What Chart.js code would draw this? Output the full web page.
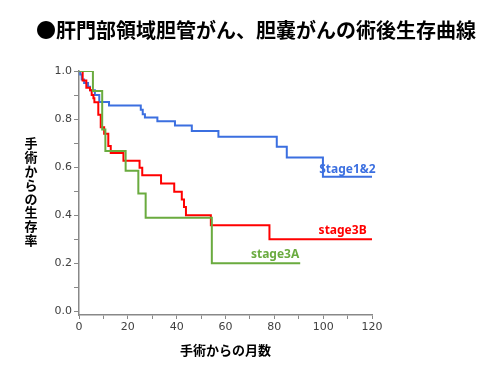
<!DOCTYPE html>
<html>
<head>
<meta charset="utf-8">
<script src="https://cdn.jsdelivr.net/npm/chart.js@4.4.1/dist/chart.umd.min.js"></script>
<style>
    html, body { margin: 0; padding: 0; background: #fff; }
</style>
</head>
<body>
<canvas id="curvaSobrevida" width="500" height="375"></canvas>
<script>
// Kaplan-Meier: mês de cada degrau e sobrevida depois dele
const mesesStage12 = [0, 0.5, 1.1, 2.1, 3.7, 4.5, 6.5, 8.3, 12.3, 25.3, 26.1, 27, 32.1, 39.3, 46.2, 57.1, 81, 85.1, 99.9, 120];
const sobrevidaStage12 = [1.0, 0.985, 0.965, 0.95, 0.935, 0.92, 0.90, 0.871, 0.856, 0.839, 0.82, 0.807, 0.791, 0.773, 0.75, 0.727, 0.685, 0.64, 0.56, 0.56];

const mesesStage3B = [0, 1.5, 3, 4.5, 5.2, 5.9, 6.3, 7.9, 8.9, 10.3, 12, 13, 18.2, 24.8, 25.9, 33.6, 39, 42.1, 43, 43.8, 54, 78, 120];
const sobrevidaStage3B = [1.0, 0.96, 0.93, 0.92, 0.90, 0.887, 0.87, 0.818, 0.766, 0.739, 0.688, 0.659, 0.627, 0.598, 0.566, 0.532, 0.498, 0.465, 0.434, 0.40, 0.358, 0.30, 0.30];

const mesesStage3A = [0, 5.7, 9.5, 10.8, 19.1, 24.3, 27.3, 54.4, 90.6];
const sobrevidaStage3A = [1.0, 0.917, 0.757, 0.667, 0.585, 0.49, 0.39, 0.20, 0.20];

const nomesSeries = ['Stage1&2', 'stage3B', 'stage3A'];
const ticksY = [0, 0.1, 0.2, 0.3, 0.4, 0.5, 0.6, 0.7, 0.8, 0.9, 1.0];
const ticksX = [0, 10, 20, 30, 40, 50, 60, 70, 80, 90, 100, 110, 120];

const titulo = '●肝門部領域胆管がん、胆嚢がんの術後生存曲線';
const tituloY = '手術からの生存率';
const tituloX = '手術からの月数';

const cores = ['#3b6fe0', '#ff0000', '#6aab3f'];

const pontos = (xs, ys) => xs.map((x, i) => ({ x: x, y: ys[i] }));

// onde escrever o nome de cada curva (em unidades dos eixos)
const rotulos = [
    { texto: nomesSeries[0], x: 121.5, y: 0.592, cor: cores[0] },
    { texto: nomesSeries[1], x: 117.8, y: 0.336, cor: cores[1] },
    { texto: nomesSeries[2], x: 90.2, y: 0.237, cor: cores[2] }
];

const textosExtras = {
    id: 'textosExtras',
    afterDraw(chart) {
        const ctx = chart.ctx;
        const sx = chart.scales.x;
        const sy = chart.scales.y;
        ctx.save();

        // título principal
        ctx.fillStyle = '#000';
        ctx.font = 'bold 20px "Noto Sans CJK JP"';
        ctx.textAlign = 'center';
        ctx.textBaseline = 'middle';
        ctx.fillText(titulo, 256, 30);

        // título do eixo Y, caracteres empilhados
        ctx.font = 'bold 13px "Noto Sans CJK JP"';
        const chars = Array.from(tituloY);
        chars.forEach((c, i) => {
            ctx.fillText(c, 31, 143 + i * 13.9);
        });

        // nomes das curvas
        ctx.font = 'bold 12px "Noto Sans"';
        ctx.textAlign = 'right';
        rotulos.forEach(r => {
            ctx.fillStyle = r.cor;
            ctx.fillText(r.texto, sx.getPixelForValue(r.x), sy.getPixelForValue(r.y));
        });
        ctx.restore();
    }
};

const serie = (meses, sobrevida, i) => ({
    label: nomesSeries[i],
    data: pontos(meses, sobrevida),
    borderColor: cores[i],
    backgroundColor: cores[i],
    borderWidth: 2,
    stepped: true,
    pointRadius: 0,
    fill: false
});

new Chart(document.getElementById('curvaSobrevida'), {
    type: 'line',
    data: {
        datasets: [
            serie(mesesStage3A, sobrevidaStage3A, 2),
            serie(mesesStage3B, sobrevidaStage3B, 1),
            serie(mesesStage12, sobrevidaStage12, 0)
        ]
    },
    options: {
        responsive: false,
        animation: false,
        devicePixelRatio: 1,
        layout: {
            padding: { left: 0, right: 128, top: 71, bottom: 0 }
        },
        plugins: {
            legend: { display: false },
            tooltip: { enabled: false }
        },
        scales: {
            x: {
                type: 'linear',
                min: 0,
                max: 120,
                afterBuildTicks: scale => { scale.ticks = ticksX.map(v => ({ value: v })); },
                afterFit: scale => { scale.height = 60; },
                grid: {
                    drawOnChartArea: false,
                    drawTicks: true,
                    tickLength: 4,
                    color: '#888'
                },
                border: { color: '#888', width: 1.5 },
                ticks: {
                    autoSkip: false,
                    maxRotation: 0,
                    padding: 2,
                    color: '#404040',
                    font: { family: 'DejaVu Sans', size: 11 },
                    callback: v => (v % 20 === 0 ? String(v) : '')
                },
                title: {
                    display: true,
                    text: tituloX,
                    color: '#000',
                    font: { family: 'Noto Sans CJK JP', size: 13, weight: 'bold' },
                    padding: { top: 4, bottom: 17 }
                }
            },
            y: {
                type: 'linear',
                min: -0.015,
                max: 1.0,
                afterBuildTicks: scale => { scale.ticks = ticksY.map(v => ({ value: v })); },
                afterFit: scale => { scale.width = 79; },
                grid: {
                    drawOnChartArea: false,
                    drawTicks: true,
                    tickLength: 5,
                    color: '#888'
                },
                border: { color: '#888', width: 1.5 },
                ticks: {
                    autoSkip: false,
                    padding: 2,
                    color: '#404040',
                    font: { family: 'DejaVu Sans', size: 11 },
                    callback: (v, i) => (i % 2 === 0 ? v.toFixed(1) : '')
                }
            }
        }
    },
    plugins: [textosExtras]
});
</script>
</body>
</html>
